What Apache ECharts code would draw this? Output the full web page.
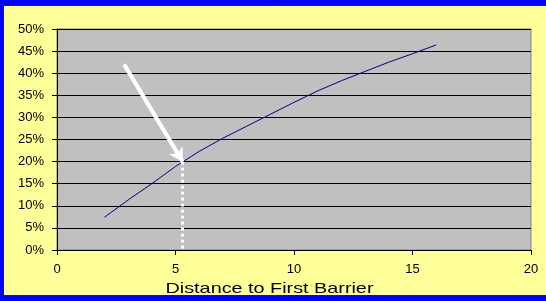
<!DOCTYPE html>
<html>
<head>
<meta charset="utf-8">
<script src="https://cdn.jsdelivr.net/npm/echarts@6/dist/echarts.min.js"></script>
<style>
  html, body { margin: 0; padding: 0; }
  #chart { width: 546px; height: 301px; }
</style>
</head>
<body>
<div id="chart"></div>
<script>
// distance to first barrier vs probability (%)
const distance = [2, 3, 4, 5, 6, 7, 8, 9, 10, 11, 12, 13, 14, 15, 16];
const probability = [7.4, 11.3, 15.0, 18.9, 22.3, 25.3, 28.0, 30.7, 33.4, 36.0, 38.3, 40.4, 42.5, 44.4, 46.4];
const xTicks = [0, 5, 10, 15, 20];
const yMax = 50;

// annotation: arrow pointing at the curve, then dotted drop to the axis
const arrowFrom = [2.83, 42];
const arrowTo = [5.3, 20];
const dropTo = [5.3, 0];

const axisFont = { fontFamily: '"Liberation Sans", Arial, sans-serif', fontSize: 13, color: '#000' };

let myChart = echarts.init(document.getElementById('chart'));
myChart.setOption({
    animation: false,
    backgroundColor: '#0000FF',
    graphic: [
        {
            type: 'rect',
            z: -10,
            shape: { x: 3.5, y: 5.5, width: 545, height: 290 },
            style: { fill: '#FFFF99', stroke: '#222', lineWidth: 1 }
        },
        {
            type: 'text',
            x: 269.5,
            y: 289,
            scaleX: 1.32,
            style: {
                text: 'Distance to First Barrier',
                fontFamily: '"Liberation Sans", Arial, sans-serif',
                fontSize: 15,
                fill: '#000',
                align: 'center',
                verticalAlign: 'middle'
            }
        }
    ],
    grid: {
        left: 57, top: 29, right: 15, bottom: 51,
        show: true,
        backgroundColor: '#C0C0C0',
        borderColor: '#808080',
        borderWidth: 1
    },
    xAxis: {
        type: 'value',
        min: xTicks[0],
        max: xTicks[xTicks.length - 1],
        interval: 5,
        axisLine: { show: true, lineStyle: { color: '#000' } },
        axisTick: { show: true, length: 5, lineStyle: { color: '#000' } },
        axisLabel: Object.assign({ margin: 13 }, axisFont),
        splitLine: { show: false }
    },
    yAxis: {
        type: 'value',
        min: 0,
        max: yMax,
        interval: 5,
        axisLine: { show: true, lineStyle: { color: '#000' } },
        axisTick: { show: true, length: 5, lineStyle: { color: '#000' } },
        axisLabel: Object.assign({ margin: 13, formatter: '{value}%' }, axisFont),
        splitLine: { show: true, lineStyle: { color: '#000', width: 1 } }
    },
    series: [
        {
            type: 'line',
            data: distance.map((d, i) => [d, probability[i]]),
            showSymbol: false,
            lineStyle: { color: '#000080', width: 1 },
            itemStyle: { color: '#000080' },
            silent: true,
            markLine: {
                silent: true,
                animation: false,
                label: { show: false },
                emphasis: { disabled: true },
                data: [
                    [
                        { coord: arrowFrom, symbol: 'none', lineStyle: { color: '#fff', width: 4, type: 'solid' } },
                        { coord: arrowTo, symbol: 'arrow', symbolSize: [12, 13] }
                    ],
                    [
                        { coord: arrowTo, symbol: 'none', lineStyle: { color: '#fff', width: 3, type: [3, 3] } },
                        { coord: dropTo, symbol: 'none' }
                    ]
                ]
            }
        }
    ]
});
</script>
</body>
</html>
